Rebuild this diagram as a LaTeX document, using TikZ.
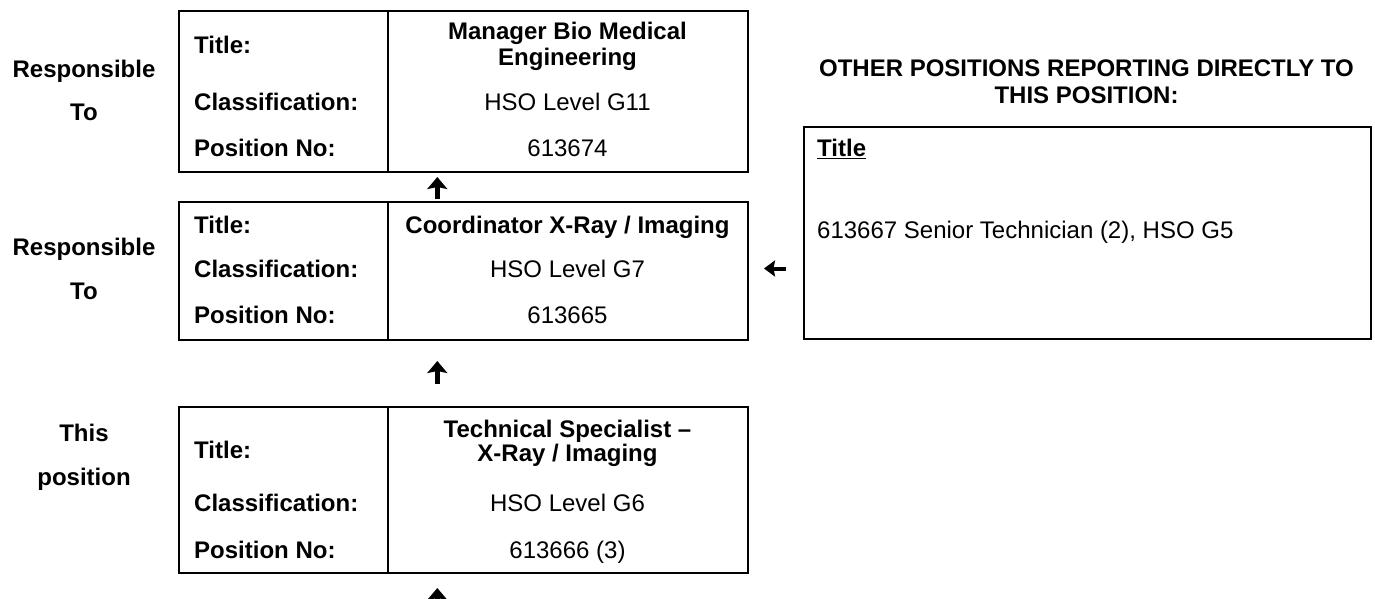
\documentclass[tikz,border=0pt]{standalone}
\usepackage{fontspec}
\setmainfont{Liberation Sans}
\usetikzlibrary{arrows.meta}
\begin{document}
\begin{tikzpicture}[x=1pt,y=-1pt,
  box/.style={draw=black, line width=2pt, inner sep=0pt, anchor=north west},
  rule/.style={draw=black, line width=2pt},
  txt/.style={inner sep=0pt, text height=17.5pt, text depth=5pt},
  lbl/.style={txt, anchor=base west, font=\fontsize{24}{26}\selectfont\bfseries},
  val/.style={txt, anchor=base, font=\fontsize{24}{26}\selectfont},
  bval/.style={txt, anchor=base, font=\fontsize{24}{26}\selectfont\bfseries},
  multi/.style={inner sep=0pt, anchor=base, align=center},
  upar/.style={line width=5.5pt, -{Stealth[length=12pt,width=20pt,inset=2pt]}},
  leftar/.style={line width=4pt, -{Stealth[length=11pt,width=16pt,inset=1.5pt]}}
]
\useasboundingbox (0,0) rectangle (1375,599);

% side labels (anchor = baseline of last line)
\node[multi, font=\fontsize{24}{43.5}\selectfont\bfseries] (side1) at (84,121) {Responsible\\To};
\node[multi, font=\fontsize{24}{43.5}\selectfont\bfseries] (side2) at (84,299) {Responsible\\To};
\node[multi, font=\fontsize{24}{43.5}\selectfont\bfseries] (side3) at (84,485) {This\\position};

% box 1
\node[box, minimum width=569pt, minimum height=161pt] (b1) at (178,10) {};
\draw[rule] ([xshift=210pt]b1.north west) -- ([xshift=210pt]b1.south west);
\node[lbl] (t1) at (194,54) {Title:};
\node[lbl] (c1) at (194,111) {Classification:};
\node[lbl] (p1) at (194,156.7) {Position No:};
\node[multi, font=\fontsize{24}{26}\selectfont\bfseries] (tv1) at (567.5,65.5) {Manager Bio Medical\\Engineering};
\node[val] (cv1) at (567.5,111) {HSO Level G11};
\node[val] (pv1) at (567.5,156.7) {613674};

% box 2
\node[box, minimum width=569pt, minimum height=138pt] (b2) at (178,201) {};
\draw[rule] ([xshift=210pt]b2.north west) -- ([xshift=210pt]b2.south west);
\node[lbl] (t2) at (194,233.3) {Title:};
\node[lbl] (c2) at (194,277.7) {Classification:};
\node[lbl] (p2) at (194,323.3) {Position No:};
\node[bval] (tv2) at (567.5,233.3) {Coordinator X-Ray / Imaging};
\node[val] (cv2) at (567.5,277.7) {HSO Level G7};
\node[val] (pv2) at (567.5,323.3) {613665};

% box 3
\node[box, minimum width=569pt, minimum height=166pt] (b3) at (178,406) {};
\draw[rule] ([xshift=210pt]b3.north west) -- ([xshift=210pt]b3.south west);
\node[lbl] (t3) at (194,458.3) {Title:};
\node[lbl] (c3) at (194,511.7) {Classification:};
\node[lbl] (p3) at (194,558.3) {Position No:};
\node[multi, font=\fontsize{24}{24}\selectfont\bfseries] (tv3) at (567.5,461) {Technical Specialist –\\X-Ray / Imaging};
\node[val] (cv3) at (567.5,511.7) {HSO Level G6};
\node[val] (pv3) at (567.5,558.3) {613666 (3)};

% right side
\node[multi, font=\fontsize{24}{27.5}\selectfont\bfseries] (hdr) at (1086.5,104) {OTHER POSITIONS REPORTING DIRECTLY TO\\THIS POSITION:};
\node[box, minimum width=567pt, minimum height=212pt] (rb) at (803,126) {};
\node[lbl] (rt) at (817,156.7) {\underline{Title}};
\node[txt, anchor=base west, font=\fontsize{24}{26}\selectfont] (rv) at (817,238.3) {613667 Senior Technician (2), HSO G5};

% arrows
\coordinate (a1t) at (437.3,177);
\coordinate (a1b) at (437.3,199);
\coordinate (a2t) at (437.3,361);
\coordinate (a2b) at (437.3,384);
\coordinate (a3t) at (437.3,588);
\coordinate (a3b) at (437.3,611);
\coordinate (alt) at (764,268.5);
\coordinate (alb) at (786,268.5);
\draw[upar] (a1b) -- (a1t);
\draw[upar] (a2b) -- (a2t);
\draw[upar] (a3b) -- (a3t);
\draw[leftar] (alb) -- (alt);
\end{tikzpicture}
\end{document}
